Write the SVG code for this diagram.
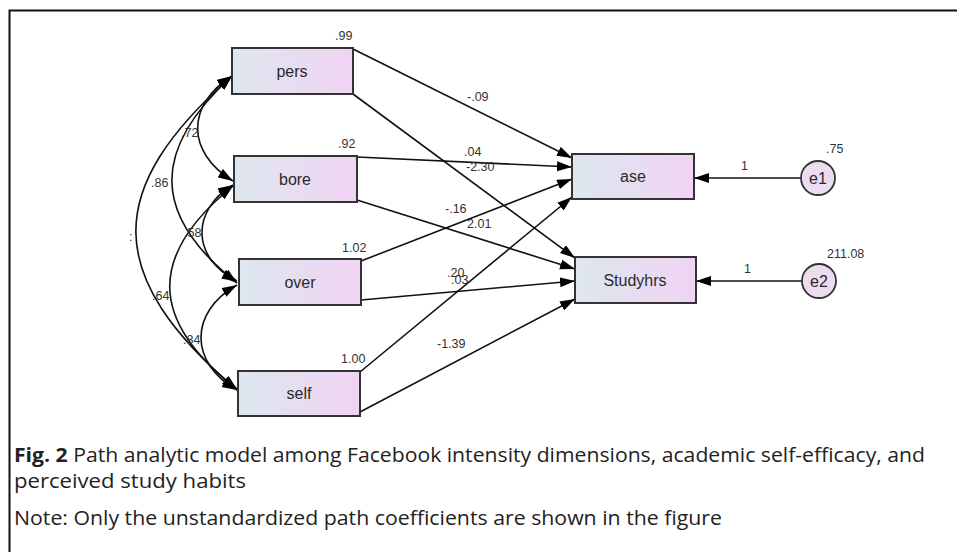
<svg xmlns="http://www.w3.org/2000/svg" width="957" height="552" viewBox="0 0 957 552">
<style>
.box{stroke:#333;stroke-width:2;fill:url(#g)}
.circ{stroke:#333;stroke-width:1.8;fill:#ecdcf0}
.lbl{font-family:"Liberation Sans",Arial,sans-serif;font-size:16px;fill:#2a2a2a;text-anchor:middle}
.num{font-family:"Liberation Sans",Arial,sans-serif;font-size:12.5px;fill:#333}
.path{stroke:#111;stroke-width:1.6;fill:none;marker-end:url(#ah)}
.cov{stroke:#111;stroke-width:1.6;fill:none;marker-end:url(#ah);marker-start:url(#ah)}
.cap{font-family:"Open Sans","Liberation Sans",sans-serif;font-size:19.5px;fill:#222}
</style>
<defs>
<linearGradient id="g" x1="0" y1="0" x2="1" y2="0">
<stop offset="0" stop-color="#dde7ee"/>
<stop offset="1" stop-color="#f1d4f3"/>
</linearGradient>
<marker id="ah" markerUnits="userSpaceOnUse" markerWidth="16" markerHeight="11" refX="15" refY="5" orient="auto-start-reverse">
<path d="M0,0 L15,5 L0,10 z" fill="#000"/>
</marker>
</defs>
<rect width="957" height="552" fill="#fff"/>
<path d="M9.5,552 L9.5,10.5 L957,10.5" fill="none" stroke="#111" stroke-width="2"/>

<g id="connectors">
<path class="path" d="M353,49 L572,158"/>
<path class="path" d="M353,94 L575,258"/>
<path class="path" d="M357,157 L572,167"/>
<path class="path" d="M357,200 L575,269"/>
<path class="path" d="M361,261 L572,179"/>
<path class="path" d="M361,300 L575,281"/>
<path class="path" d="M360,372 L572,197"/>
<path class="path" d="M360,412 L575,299"/>
<path class="path" d="M801,178 L694,178"/>
<path class="path" d="M802,281 L696,281"/>
<path class="cov" d="M232,76 C186,105 186,152 233,181"/>
<path class="cov" d="M232,76 C151,150 151,215 237,283"/>
<path class="cov" d="M232,76 C103,190 103,275 237,390"/>
<path class="cov" d="M233,185 C191,210 191,258 237,281"/>
<path class="cov" d="M233,186 C148,255 148,320 237,389"/>
<path class="cov" d="M237,285 C189,312 189,363 237,390"/>
<text class="num" x="467" y="101">-.09</text>
<text class="num" x="464" y="156">.04</text>
<text class="num" x="466" y="171">-2.30</text>
<text class="num" x="445" y="213">-.16</text>
<text class="num" x="467" y="228">2.01</text>
<text class="num" x="447" y="277">.20</text>
<text class="num" x="451" y="284">.03</text>
<text class="num" x="437" y="348">-1.39</text>
<text class="num" x="741" y="170">1</text>
<text class="num" x="744" y="273">1</text>
<text class="num" x="181" y="137">.72</text>
<text class="num" x="151" y="187">.86</text>
<text class="num" x="129" y="241" font-size="9">:</text>
<text class="num" x="184" y="237">.58</text>
<text class="num" x="152" y="300">.64</text>
<text class="num" x="183" y="344">.84</text>
</g>

<g id="pers">
<rect class="box" x="232" y="48" width="121" height="46"/>
<text class="lbl" x="292" y="77">pers</text>
<text class="num" x="335" y="40">.99</text>
</g>
<g id="bore">
<rect class="box" x="234" y="156" width="123" height="46"/>
<text class="lbl" x="295" y="185">bore</text>
<text class="num" x="338" y="148">.92</text>
</g>
<g id="over">
<rect class="box" x="239" y="259" width="122" height="46"/>
<text class="lbl" x="300" y="288">over</text>
<text class="num" x="342" y="252">1.02</text>
</g>
<g id="self">
<rect class="box" x="238" y="371" width="122" height="45"/>
<text class="lbl" x="299" y="399">self</text>
<text class="num" x="341" y="363">1.00</text>
</g>
<g id="ase">
<rect class="box" x="572" y="154" width="122" height="45"/>
<text class="lbl" x="633" y="182">ase</text>
</g>
<g id="Studyhrs">
<rect class="box" x="575" y="257" width="121" height="46"/>
<text class="lbl" x="635" y="286">Studyhrs</text>
</g>
<g id="e1">
<circle class="circ" cx="818" cy="178" r="17"/>
<text class="lbl" x="818" y="184">e1</text>
<text class="num" x="826" y="153">.75</text>
</g>
<g id="e2">
<circle class="circ" cx="819" cy="281" r="17"/>
<text class="lbl" x="819" y="287">e2</text>
<text class="num" x="827" y="258">211.08</text>
</g>

<g id="caption">
<text class="cap" x="14" y="462" textLength="911" lengthAdjust="spacingAndGlyphs"><tspan font-weight="bold">Fig. 2</tspan> Path analytic model among Facebook intensity dimensions, academic self-efficacy, and</text>
<text class="cap" x="14" y="488" textLength="232" lengthAdjust="spacingAndGlyphs">perceived study habits</text>
<text class="cap" x="14" y="525" textLength="708" lengthAdjust="spacingAndGlyphs">Note: Only the unstandardized path coefficients are shown in the figure</text>
</g>
</svg>
